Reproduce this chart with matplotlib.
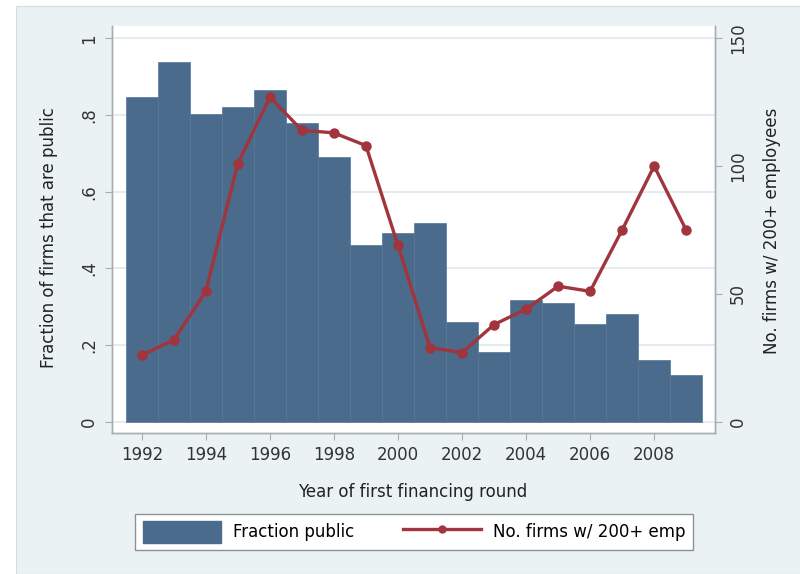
import matplotlib
matplotlib.use("Agg")
import matplotlib.pyplot as plt
from matplotlib.patches import Rectangle
from matplotlib.lines import Line2D

plt.rcParams['font.family'] = ['DejaVu Sans']

years = [1992, 1993, 1994, 1995, 1996, 1997, 1998, 1999, 2000,
         2001, 2002, 2003, 2004, 2005, 2006, 2007, 2008, 2009]
fraction_public = [0.848, 0.937, 0.802, 0.820, 0.866, 0.779, 0.690, 0.462, 0.493,
                   0.517, 0.259, 0.183, 0.317, 0.309, 0.255, 0.282, 0.161, 0.121]
firms_200plus = [26, 32, 51, 101, 127, 114, 113, 108, 69,
                 29, 27, 38, 44, 53, 51, 75, 100, 75]

xticks = [1992, 1994, 1996, 1998, 2000, 2002, 2004, 2006, 2008]
left_ticks = [0, 0.2, 0.4, 0.6, 0.8, 1.0]
left_ticklabels = ['0', '.2', '.4', '.6', '.8', '1']
right_ticks = [0, 50, 100, 150]
right_ticklabels = ['0', '50', '100', '150']

BG = '#EAF2F3'
BAR = '#4A6B8B'
LINE = '#A1343C'
SPINE = '#A8AEB0'

W, H = 800, 574
fig = plt.figure(figsize=(W / 100, H / 100), dpi=100)
fig.patch.set_facecolor('white')
bg = Rectangle((16 / W, 0), 1 - 16 / W, 1 - 6 / H, transform=fig.transFigure,
               facecolor=BG, edgecolor='#D5DCDE', linewidth=0.8, zorder=-10)
fig.patches.append(bg)

l, r, t, b = 112, 715, 26, 433
ax = fig.add_axes([l / W, 1 - b / H, (r - l) / W, (b - t) / H])
ax.set_facecolor('white')
ax.set_axisbelow(True)

ax.bar(years, fraction_public, width=1.0, color=BAR, edgecolor='#557595', linewidth=0.5, zorder=2)
ax.set_xlim(1991.07, 2009.9)
ylo, yhi = -0.0295, 1.032
ax.set_ylim(ylo, yhi)
ax.set_yticks(left_ticks)
ax.set_yticklabels(left_ticklabels, rotation=90, va='center')
ax.set_xticks(xticks)
ax.set_xticklabels([str(x) for x in xticks])
ax.grid(axis='y', color='#E3ECEE', linewidth=1.4)
ax.grid(axis='x', visible=False)

ax2 = ax.twinx()
ax2.plot(years, firms_200plus, color=LINE, linewidth=2.4, marker='o', markersize=6.5, zorder=3)
ax2.set_ylim(ylo * 150, yhi * 150)
ax2.set_yticks(right_ticks)
ax2.set_yticklabels(right_ticklabels, rotation=90, va='center')

for a in (ax, ax2):
    a.spines['top'].set_visible(False)
    for s in ('left', 'right', 'bottom'):
        a.spines[s].set_color(SPINE)
        a.spines[s].set_linewidth(1.0)
    a.tick_params(colors='#333333', labelsize=12, length=5, width=0.8)
    a.tick_params(axis='both', color=SPINE)
ax.tick_params(axis='y', pad=5)
ax2.tick_params(axis='y', pad=5)
ax.tick_params(axis='x', pad=4)

fig.text(413 / W, 1 - 492 / H, 'Year of first financing round', ha='center', va='center',
         fontsize=12, color='#222222')
fig.text(49 / W, 1 - 238 / H, 'Fraction of firms that are public', ha='center', va='center',
         rotation=90, fontsize=12, color='#222222')
fig.text(772 / W, 1 - 231 / H, 'No. firms w/ 200+ employees', ha='center', va='center',
         rotation=90, fontsize=12, color='#222222')

handles = [Rectangle((0, 0), 1, 1, facecolor=BAR, edgecolor=BAR),
           Line2D([], [], color=LINE, linewidth=2.4, marker='o', markersize=5)]
leg = fig.legend(handles, ['Fraction public', 'No. firms w/ 200+ emp'],
                 loc='center', bbox_to_anchor=(414 / W, 1 - 532 / H), ncol=2,
                 fontsize=12, frameon=True, fancybox=False, shadow=False, framealpha=1,
                 handlelength=4.7, handleheight=1.6, handletextpad=0.7,
                 columnspacing=2.9, borderpad=0.45, numpoints=1)
leg.get_frame().set_edgecolor('#8C9294')
leg.get_frame().set_linewidth(1.0)
leg.get_frame().set_facecolor('white')

fig.savefig('out.png', dpi=100)
